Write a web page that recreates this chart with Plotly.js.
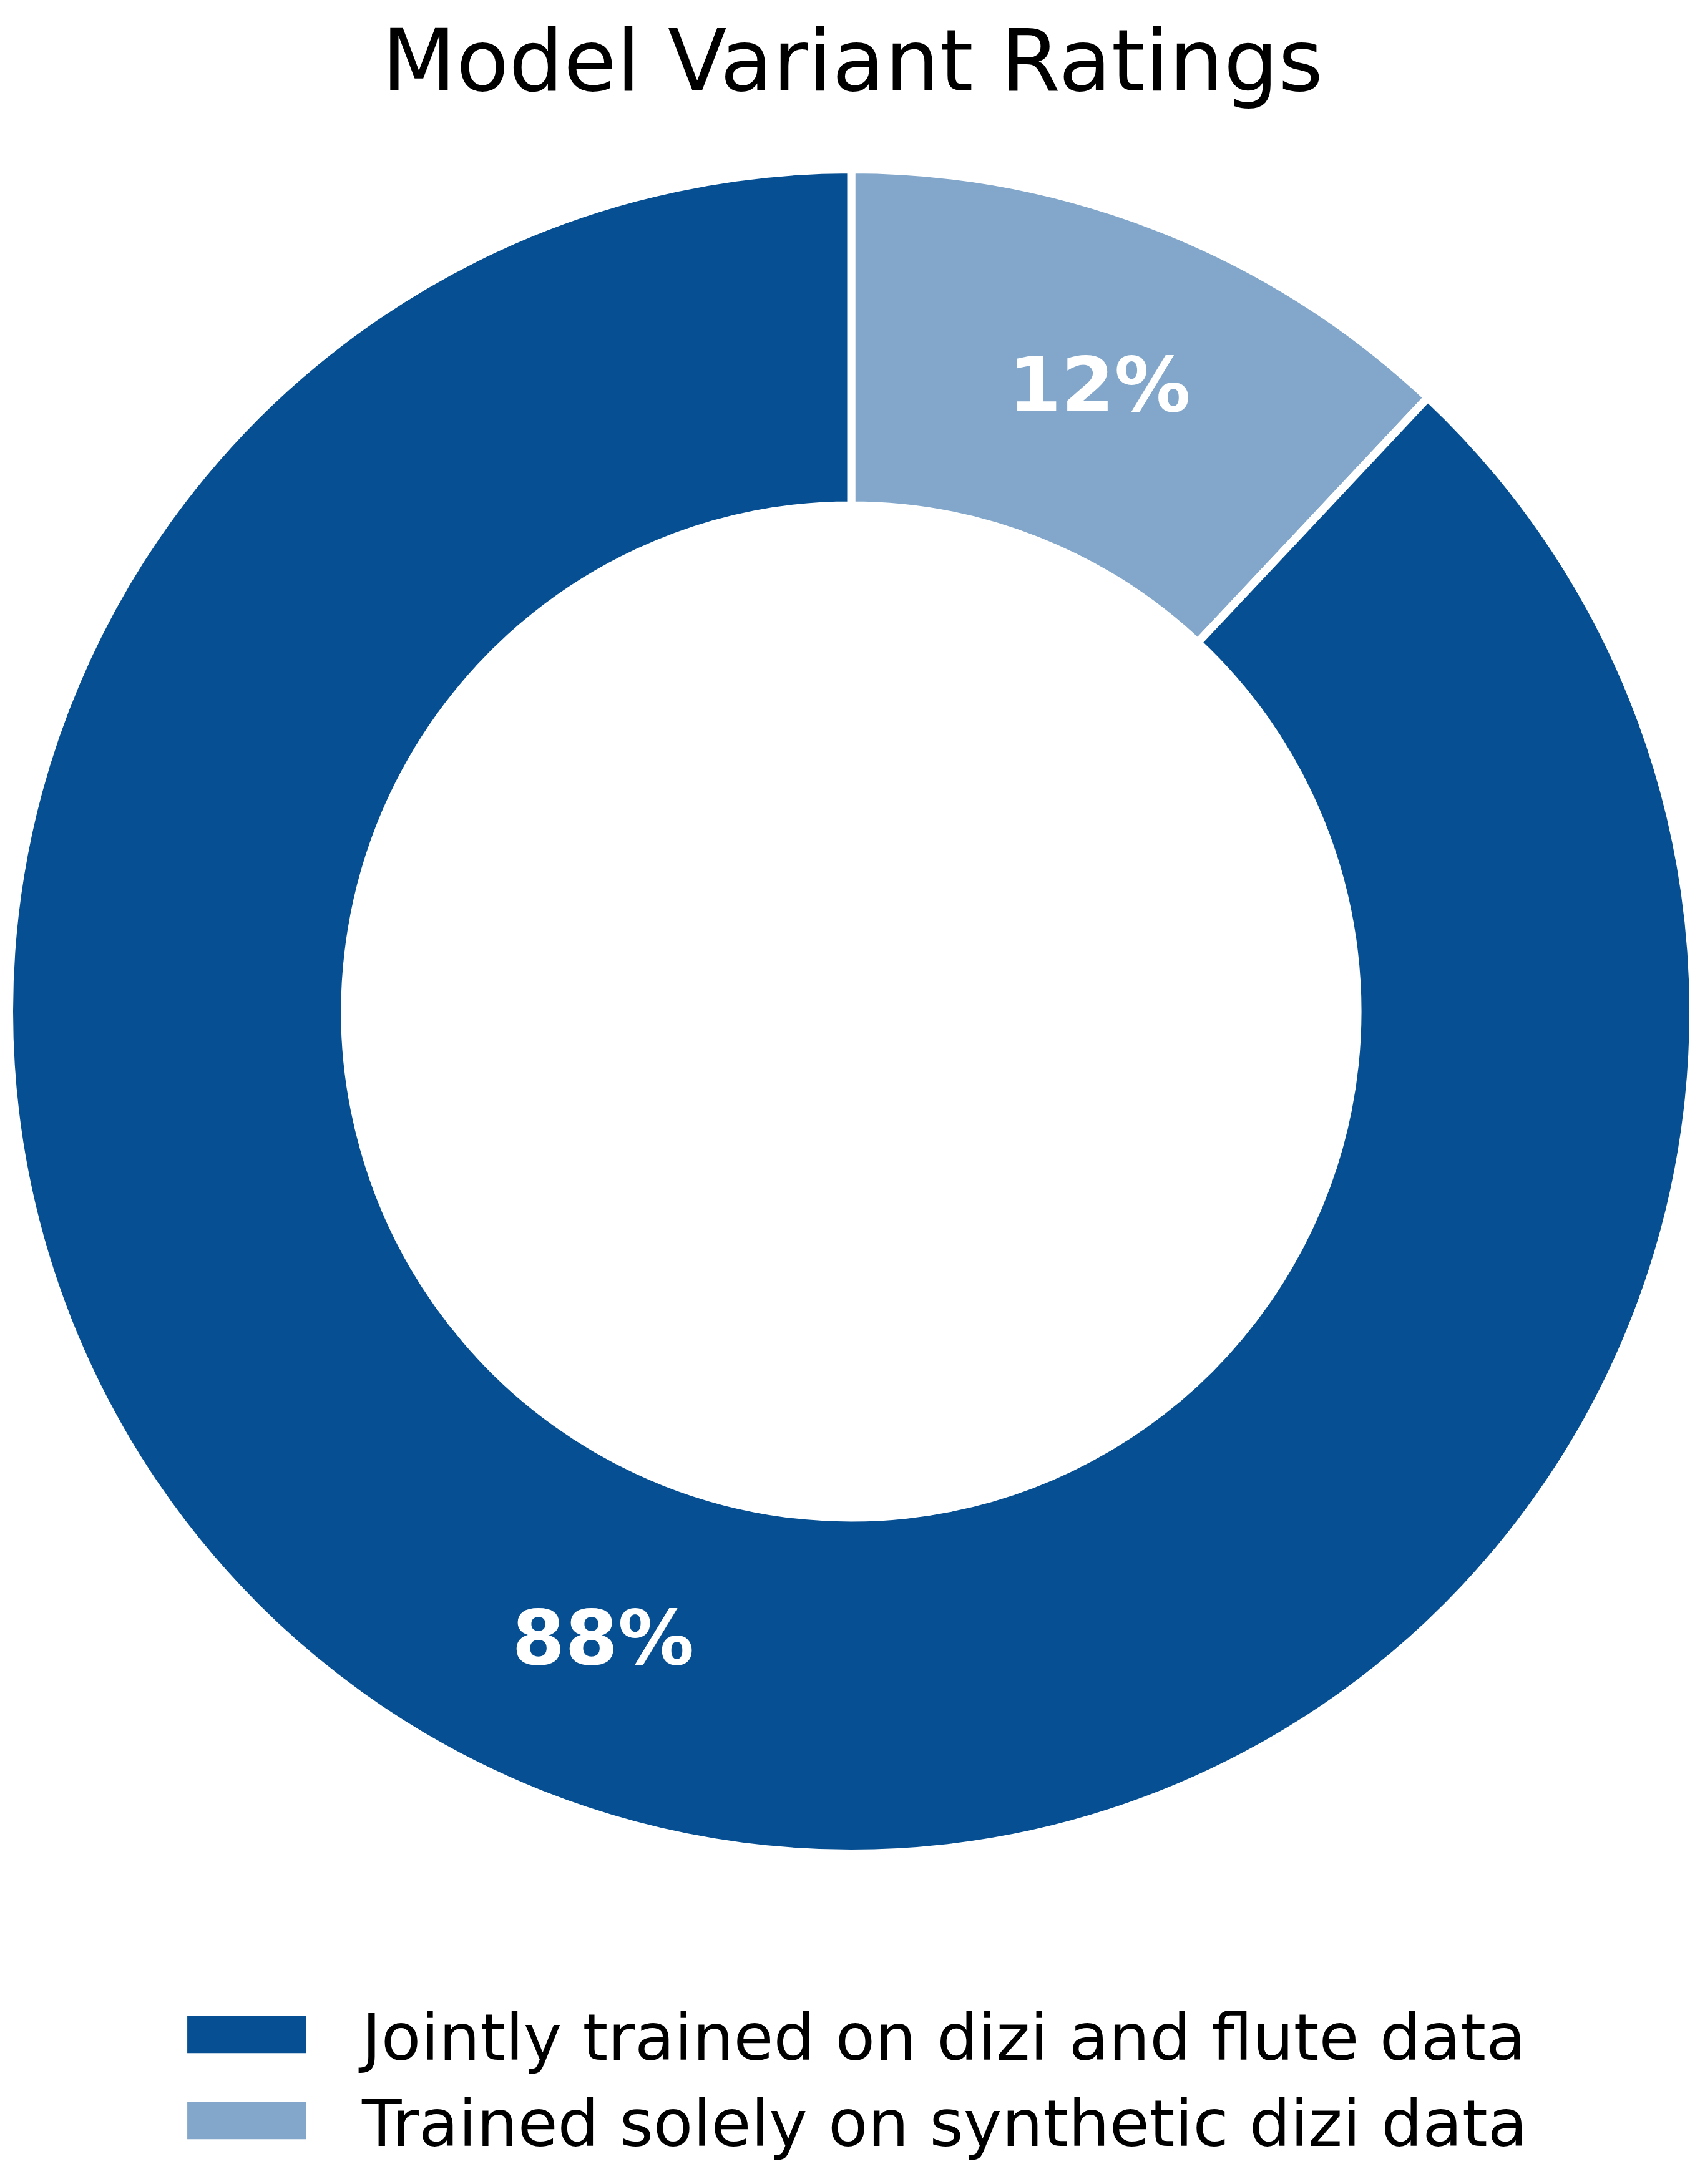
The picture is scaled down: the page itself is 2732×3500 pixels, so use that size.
<!DOCTYPE html>
<html>
<head>
<meta charset="utf-8">
<script src="https://cdn.plot.ly/plotly-3.0.1.min.js"></script>
<style>
  html, body { margin: 0; padding: 0; background: #ffffff; }
  #chart { width: 2732px; height: 3500px; }
</style>
</head>
<body>
<div id="chart"></div>
<script>
// ---- data (drawn clockwise from 12 o'clock) ----
const categories = [
  "Trained solely on synthetic dizi data",
  "Jointly trained on dizi and flute data"
];
const shares = [12, 88];
const sliceColors = ["#82a7ca", "#054f92"];
const chartTitle = "Model Variant Ratings";

// ---- chart ----
const trace = {
  type: "pie",
  labels: categories,
  values: shares,
  sort: false,
  direction: "clockwise",
  rotation: 0,
  hole: 0.601,
  marker: { colors: sliceColors, line: { color: "#ffffff", width: 13 } },
  textinfo: "percent",
  texttemplate: "%{percent:.0%}",
  textposition: "inside",
  insidetextorientation: "horizontal",
  textfont: { family: "DejaVu Sans", size: 122, color: "#ffffff", weight: "bold" },
  hoverinfo: "skip",
  domain: { x: [0.00531, 0.99323], y: [0.15129, 0.92243] },
  showlegend: true
};

const layout = {
  width: 2732,
  height: 3500,
  paper_bgcolor: "#ffffff",
  plot_bgcolor: "#ffffff",
  margin: { l: 0, r: 0, t: 0, b: 0, autoexpand: false },
  font: { family: "DejaVu Sans", color: "#000000" },
  title: {
    text: chartTitle,
    font: { family: "DejaVu Sans", size: 138, color: "#000000" },
    x: 0.5, xref: "paper", xanchor: "center",
    y: 0.9725, yref: "container", yanchor: "middle"
  },
  showlegend: true,
  legend: {
    orientation: "v",
    x: 0.0769, xanchor: "left",
    y: 0.0897, yanchor: "top",
    itemwidth: 360,
    font: { family: "DejaVu Sans", size: 104, color: "#000000" },
    bgcolor: "rgba(0,0,0,0)",
    borderwidth: 0,
    traceorder: "reversed"
  }
};

const gd = document.getElementById("chart");
function enlargeSwatches() {
  document.querySelectorAll("#chart g.legend path.legendpie").forEach(p => {
    p.setAttribute("d", "M95,30H-95V-30H95Z");
    p.style.strokeWidth = "0px";
  });
}
Plotly.newPlot(gd, [trace], layout, { displayModeBar: false, staticPlot: true }).then(() => {
  enlargeSwatches();
  gd.on && gd.on("plotly_afterplot", enlargeSwatches);
});
</script>
</body>
</html>
